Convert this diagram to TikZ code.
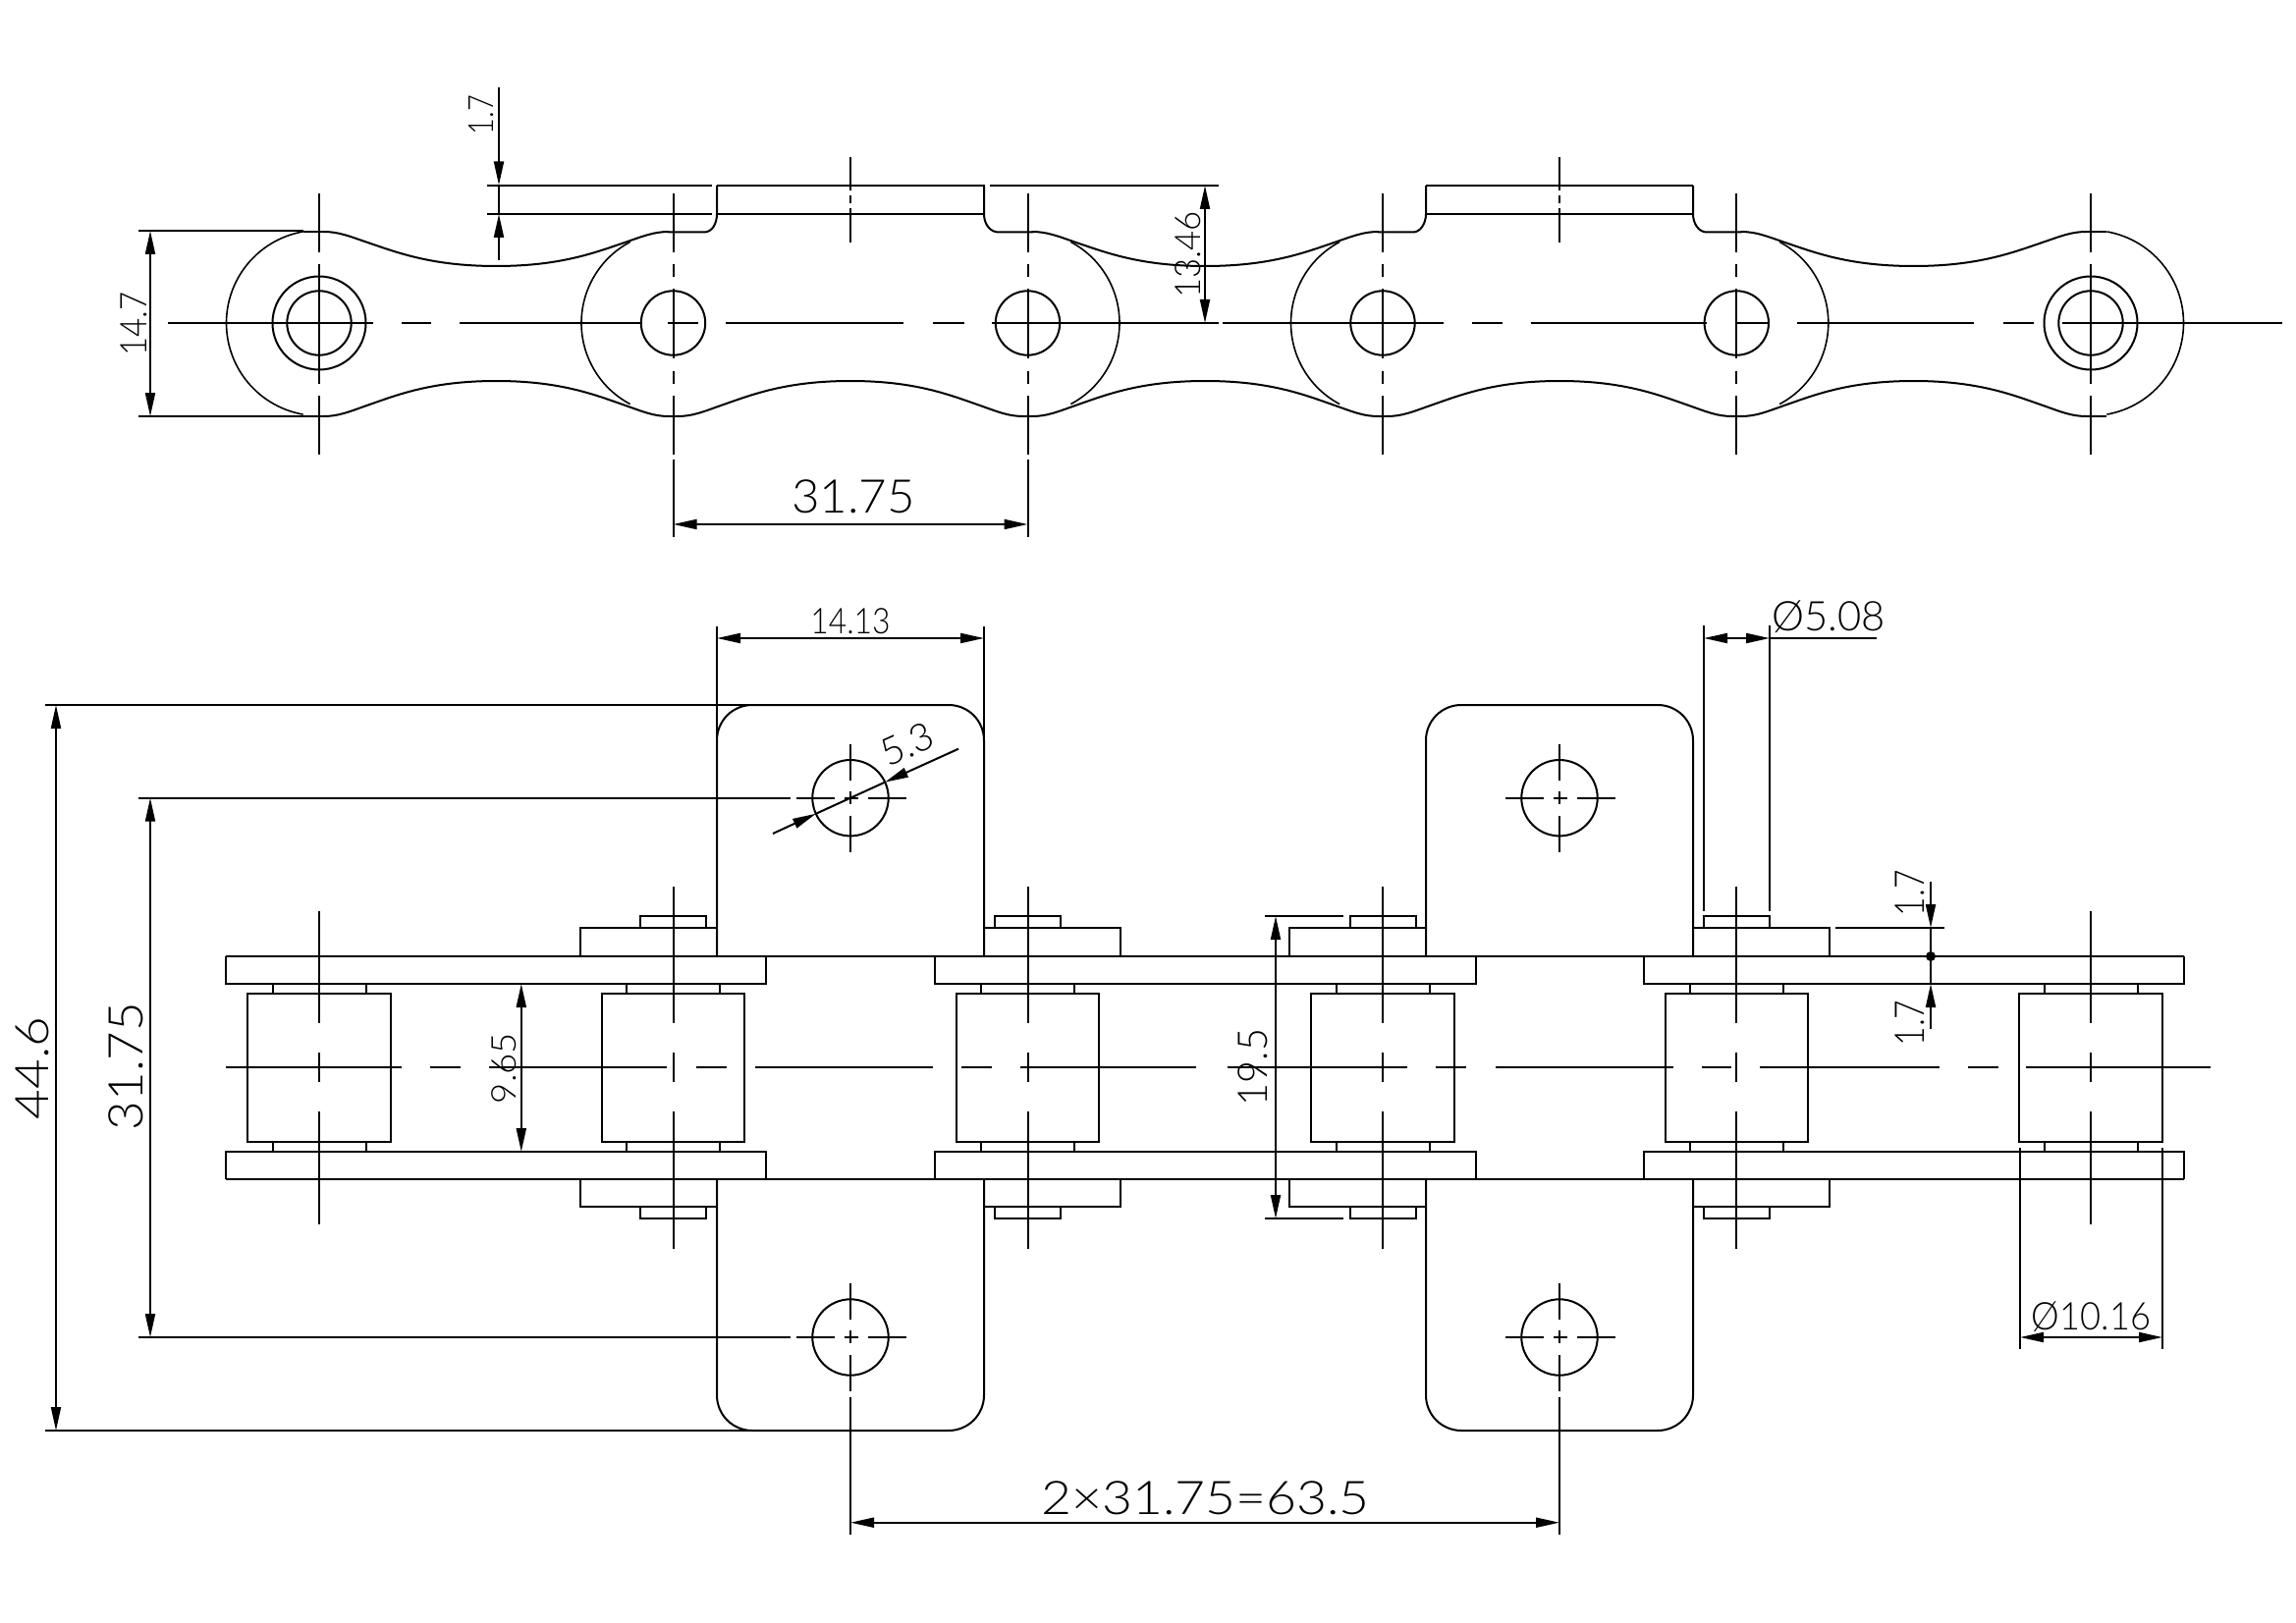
\documentclass[tikz,border=0pt]{standalone}
\usepackage{fontspec}
\usetikzlibrary{arrows.meta}
\setmainfont{Lato}[UprightFont={* Light}]
\newcommand\fs[1]{\fontsize{\fpeval{#1*1.39}}{\fpeval{#1*1.39}}\selectfont}
\newcommand\wave[4]{\draw[ln] ({#1+4},#3) .. controls ({#1+20},#3) and ({#1+30},{#3+#4*.125}) .. ({#1+50},{#3+#4*.32}) .. controls ({#1+80},{#3+#4*.61}) and ({#1+115},{#3+#4}) .. ({(#1+#2)/2},{#3+#4}) .. controls ({#2-115},{#3+#4}) and ({#2-80},{#3+#4*.61}) .. ({#2-50},{#3+#4*.32}) .. controls ({#2-30},{#3+#4*.125}) and ({#2-20},#3) .. ({#2-4},#3);}
\newcommand\botwave[2]{\wave{#1}{#2}{424}{-36}}
\newcommand\topwave[2]{\wave{#1}{#2}{236}{35}}
\newcommand\holemark[2]{%
  \draw[ln] (#1,#2) circle[radius=38.7pt];
  \draw[ln] (#1,{#2-55}) -- (#1,{#2-18}) (#1,{#2-7}) -- (#1,{#2+6}) (#1,{#2+18}) -- (#1,{#2+55});
  \draw[ln] ({#1-55},#2) -- ({#1-16},#2) ({#1-6},#2) -- ({#1+8},#2) ({#1+18},#2) -- ({#1+57},#2);}
\tikzset{
  ln/.style={line width=2pt,black,line cap=butt},
  thinln/.style={line width=1.6pt,black},
  arr/.style={ln,-{Triangle[length=24pt,width=10pt]}},
  arr2/.style={ln,{Triangle[length=24pt,width=10pt]}-{Triangle[length=24pt,width=10pt]}},
  dimtext/.style={inner sep=0pt,outer sep=0pt,black}
}
\begin{document}
\begin{tikzpicture}[x=1pt,y=-1pt]
\useasboundingbox (0,0) rectangle (2338,1653);
\def\Pa{325}\def\Pb{685.5}\def\Pc{1046.5}\def\Pd{1408}\def\Pe{1768.3}\def\Pf{2129}
% ===== TOP VIEW =====
\topwave{\Pa}{\Pb}\topwave{\Pc}{\Pd}\topwave{\Pe}{\Pf}
\botwave{\Pa}{\Pb}\botwave{\Pb}{\Pc}\botwave{\Pc}{\Pd}\botwave{\Pd}{\Pe}\botwave{\Pe}{\Pf}
\foreach \p in {\Pa,\Pb,\Pc,\Pd,\Pe,\Pf}{
  \draw[ln] ({\p-5},424) -- ({\p+5},424);
}
\draw[ln] ({\Pa-16},236) -- ({\Pa+5},236);
\draw[ln] ({\Pf-5},236) -- ({\Pf+16},236);
\draw[ln] ({\Pa-16},424) -- ({\Pa+5},424);
\draw[ln] ({\Pf-5},424) -- ({\Pf+16},424);
% end arcs
\draw[thinln] plot[domain=100:260,samples=60] ({\Pa+94.5*cos(\x)},{329+94.5*sin(\x)});
\draw[thinln] plot[domain=-80:80,samples=60] ({\Pf+94.5*cos(\x)},{329+94.5*sin(\x)});
\foreach \p in {\Pb,\Pd}{\draw[thinln] plot[domain=118:242,samples=60] ({\p+93.5*cos(\x)},{329+93.5*sin(\x)});}
\foreach \p in {\Pc,\Pe}{\draw[thinln] plot[domain=-62:62,samples=60] ({\p+93.5*cos(\x)},{329+93.5*sin(\x)});}
% tab profiles
\draw[ln] ({\Pb-5},236.5) -- (717,236.5) .. controls (725,236.5) and (730,228) .. (730,218) -- (730,189);
\draw[ln] (1002,189) -- (1002,218) .. controls (1002,228) and (1008,236.5) .. (1017,236.5) -- ({\Pc+5},236.5);
\draw[ln] ({\Pd-5},236.5) -- (1439,236.5) .. controls (1446,236.5) and (1452,228) .. (1452,218) -- (1452,189);
\draw[ln] (1724,189) -- (1724,218) .. controls (1724,228) and (1730,236.5) .. (1738,236.5) -- ({\Pe+5},236.5);
\draw[ln] (496,189) -- (725,189) (730,189) -- (1003,189) (1008,189) -- (1241,189);
\draw[ln] (496,218) -- (725,218) (730,218) -- (1002,218);
\draw[ln] (1452,189) -- (1724,189) (1452,218) -- (1724,218);
% holes
\foreach \p in {\Pa,\Pb,\Pc,\Pd,\Pe,\Pf}{\draw[ln] (\p,329) circle[radius=32.7pt];}
\draw[ln] (\Pa,329) circle[radius=47.5pt];
\draw[ln] (\Pf,329) circle[radius=47.5pt];
% vertical centre lines
\foreach \p in {\Pa,\Pf}{\draw[ln] (\p,197) -- (\p,257) (\p,269) -- (\p,391) (\p,403) -- (\p,463);}
\foreach \p in {\Pb,\Pc,\Pd,\Pe}{\draw[ln] (\p,197) -- (\p,257) (\p,269) -- (\p,282) (\p,294) -- (\p,365) (\p,378) -- (\p,391) (\p,403) -- (\p,463);}
\foreach \p in {\Pb,\Pc}{\draw[ln] (\p,468) -- (\p,547);}
\draw[ln] (866,160) -- (866,194) (866,199) -- (866,207) (866,212) -- (866,247);
\draw[ln] (1588,160) -- (1588,194) (1588,199) -- (1588,207) (1588,212) -- (1588,247);
% horizontal centre line
\draw[ln] (171,329) -- (380,329) (409,329) -- (439,329) (468,329) -- (654,329) (680,329) -- (711,329) (739,329) -- (920,329) (950,329) -- (982,329) (1010,329) -- (1241,329) (1245,329) -- (1470,329) (1499,329) -- (1530,329) (1559,329) -- (1738,329) (1768,329) -- (1801,329) (1830,329) -- (2010,329) (2040,329) -- (2071,329) (2100,329) -- (2324,329);
% dims top view
\draw[ln] (141,235) -- ({\Pa-16},235) (141,424) -- ({\Pa-16},424);
\draw[arr2] (153,235) -- (153,424);
\node[dimtext,font=\fs{27},rotate=90,xscale=.88] (t147) at (136.5,330) {14.7};
\draw[arr] (508,89) -- (508,188.5);
\draw[arr] (508,265) -- (508,218);
\draw[ln] (508,188.5) -- (508,218);
\node[dimtext,font=\fs{25.5},rotate=90,xscale=.82] (t17a) at (490,117) {1.7};
\draw[arr2] (1227,189) -- (1227,329);
\node[dimtext,font=\fs{26},rotate=90,xscale=.96] (t1346) at (1210,259.5) {13.46};
\draw[arr2] (\Pb,534) -- (\Pc,534);
\node[dimtext,font=\fs{34},xscale=1.04] (t3175a) at (869,506) {31.75};
% ===== FRONT VIEW =====
% long plate edges
\draw[ln] (230,974) -- (2224,974) (230,1201) -- (2224,1201);
\foreach \a/\b in {230/780,952/1503,1674/2224}{
  \draw[ln] (\a,974) -- (\a,1002) -- (\b,1002) -- (\b,974);
  \draw[ln] (\a,1201) -- (\a,1173) -- (\b,1173) -- (\b,1201);
}
% rollers and stubs
\foreach \p in {\Pa,\Pb,\Pc,\Pd,\Pe,\Pf}{
  \draw[ln] ({\p-72.7},1012) rectangle ({\p+72.7},1163);
  \draw[ln] ({\p-47.5},1002) -- ({\p-47.5},1012) ({\p+47.5},1002) -- ({\p+47.5},1012);
  \draw[ln] ({\p-47.5},1163) -- ({\p-47.5},1173) ({\p+47.5},1163) -- ({\p+47.5},1173);
}
% pin heads
\foreach \p in {\Pb,\Pc,\Pd,\Pe}{
  \draw[ln] ({\p-33.5},945) -- ({\p-33.5},933) -- ({\p+33.5},933) -- ({\p+33.5},945);
  \draw[ln] ({\p-33.5},1229) -- ({\p-33.5},1241) -- ({\p+33.5},1241) -- ({\p+33.5},1229);
}
% outer link bars
\foreach \a/\b in {591/730,1002/1141,1313/1452,1724/1863}{
  \draw[ln] (\a,974) -- (\a,945) -- (\b,945) -- (\b,974);
  \draw[ln] (\a,1201) -- (\a,1229) -- (\b,1229) -- (\b,1201);
}
% tabs
\foreach \a/\b in {730/1002,1452/1724}{
  \draw[ln,rounded corners=36pt] (\a,974) -- (\a,718) -- (\b,718) -- (\b,974);
  \draw[ln,rounded corners=36pt] (\a,1201) -- (\a,1457) -- (\b,1457) -- (\b,1201);
}
% holes in tabs
\holemark{866}{812.7}\holemark{1588}{812.7}\holemark{866}{1362}\holemark{1588}{1362}
% pin centre lines
\foreach \p in {\Pa,\Pf}{\draw[ln] (\p,928) -- (\p,1042) (\p,1072) -- (\p,1102) (\p,1132) -- (\p,1247);}
\foreach \p in {\Pb,\Pc,\Pd,\Pe}{\draw[ln] (\p,903) -- (\p,1042) (\p,1072) -- (\p,1102) (\p,1132) -- (\p,1272);}
% horizontal centre line
\draw[ln] (230,1087) -- (408.5,1087) (437.5,1087) -- (469,1087) (498,1087) -- (679,1087) (709,1087) -- (740,1087) (769,1087) -- (950,1087) (979,1087) -- (1010,1087) (1039,1087) -- (1218,1087) (1250,1087) -- (1432.6,1087) (1461.7,1087) -- (1493,1087) (1523,1087) -- (1703.6,1087) (1732.6,1087) -- (1763,1087) (1792,1087) -- (1974.5,1087) (2003.6,1087) -- (2035,1087) (2063,1087) -- (2251,1087);
% extension lines and dimensions, left
\draw[ln] (46,718) -- (767,718) (46,1457) -- (763,1457);
\draw[ln] (141,812.7) -- (805,812.7) (141,1362) -- (805,1362);
\draw[arr2] (57,718) -- (57,1457);
\draw[arr2] (153,812.7) -- (153,1362);
\node[dimtext,font=\fs{34},rotate=90,xscale=1.12] (t446) at (33,1088) {44.6};
\node[dimtext,font=\fs{35},rotate=90,xscale=1.05] (t3175b) at (128,1086) {31.75};
\draw[arr2] (530.8,1002) -- (530.8,1173);
\node[dimtext,font=\fs{25},rotate=90,xscale=1.05] (t965) at (513.5,1088) {9.65};
% 14.13
\draw[ln] (730,638) -- (730,753) (1002,638) -- (1002,756);
\draw[arr2] (730,650) -- (1002,650);
\node[dimtext,font=\fs{26},xscale=.88] (t1413) at (866,632.5) {14.13};
% 5.3
\draw[ln] (831,828.7) -- (901,796.7);
\draw[arr] (787,849) -- (831,828.7);
\draw[arr] (976,762.7) -- (901,796.7);
\node[dimtext,font=\fs{28},rotate=24] (t53) at (924,758) {5.3};
% 2x31.75
\draw[ln] (866,1423) -- (866,1563) (1588,1423) -- (1588,1563);
\draw[arr2] (866,1550.7) -- (1588,1550.7);
\node[dimtext,font=\fs{34},xscale=1.13] (t63) at (1227.5,1525.5) {2×31.75=63.5};
% 19.5
\draw[ln] (1288,933) -- (1368,933) (1288,1241) -- (1368,1241);
\draw[arr2] (1299,933) -- (1299,1241);
\node[dimtext,font=\fs{30},rotate=90,xscale=.95] (t195) at (1276,1087) {19.5};
% 5.08
\draw[ln] (1735,637) -- (1735,928) (1802,637) -- (1802,928);
\draw[ln] (1802,650) -- (1911,650);
\draw[arr2] (1735,650) -- (1802,650);
\node[dimtext,font=\fs{30}] (t508) at (1862,628) {Ø5.08};
% 1.7 right
\draw[ln] (1869,945) -- (1980,945);
\draw[arr] (1966,898) -- (1966,945);
\draw[ln] (1966,945) -- (1966,1002);
\draw[arr] (1966,1048) -- (1966,1002);
\fill (1966,974) circle[radius=5pt];
\node[dimtext,font=\fs{30},rotate=90,xscale=.81] (t17b) at (1945,909.5) {1.7};
\node[dimtext,font=\fs{30},rotate=90,xscale=.81] (t17c) at (1945,1042) {1.7};
% 10.16
\draw[ln] (2057,1169) -- (2057,1374) (2202,1169) -- (2202,1374);
\draw[arr2] (2057,1362) -- (2202,1362);
\node[dimtext,font=\fs{28},xscale=.93] (t1016) at (2129.5,1341) {Ø10.16};
\end{tikzpicture}
\end{document}
